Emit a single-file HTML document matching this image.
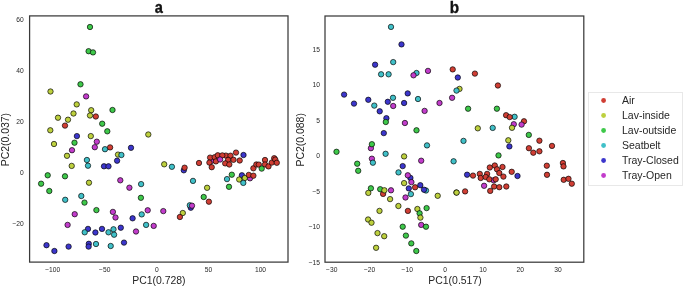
<!DOCTYPE html>
<html><head><meta charset="utf-8"><style>
html,body{margin:0;padding:0;background:#fff;}
body{width:684px;height:287px;overflow:hidden;position:relative;font-family:"Liberation Sans",sans-serif;}
svg{position:absolute;left:0;top:0;will-change:transform;}
</style></head><body>
<svg width="684" height="287" viewBox="0 0 684 287" font-family="Liberation Sans, sans-serif">
<g stroke="#000" stroke-opacity="0.75" stroke-width="0.9">
<circle cx="90" cy="27" r="2.7" fill="#3ec84a"/>
<circle cx="88.6" cy="51.2" r="2.7" fill="#3ec84a"/>
<circle cx="93" cy="52.4" r="2.7" fill="#3ec84a"/>
<circle cx="80.5" cy="84.3" r="2.7" fill="#3ec84a"/>
<circle cx="50.5" cy="91.5" r="2.7" fill="#bdd03e"/>
<circle cx="86.1" cy="96.4" r="2.7" fill="#c23ccb"/>
<circle cx="76.7" cy="104.4" r="2.7" fill="#bdd03e"/>
<circle cx="112.5" cy="110" r="2.7" fill="#3ec84a"/>
<circle cx="91.2" cy="110.2" r="2.7" fill="#bdd03e"/>
<circle cx="73.5" cy="113.5" r="2.7" fill="#bdd03e"/>
<circle cx="90" cy="115.5" r="2.7" fill="#bdd03e"/>
<circle cx="95.8" cy="116.5" r="2.7" fill="#d03e34"/>
<circle cx="58" cy="117.7" r="2.7" fill="#bdd03e"/>
<circle cx="68" cy="119.7" r="2.7" fill="#bdd03e"/>
<circle cx="102.2" cy="123.7" r="2.7" fill="#3ec84a"/>
<circle cx="65" cy="125.6" r="2.7" fill="#d03e34"/>
<circle cx="50.3" cy="130.3" r="2.7" fill="#bdd03e"/>
<circle cx="107.3" cy="131.3" r="2.7" fill="#3ec84a"/>
<circle cx="148.3" cy="134.5" r="2.7" fill="#bdd03e"/>
<circle cx="76.9" cy="136.1" r="2.7" fill="#3c36cc"/>
<circle cx="90.8" cy="136.1" r="2.7" fill="#bdd03e"/>
<circle cx="96.8" cy="141.7" r="2.7" fill="#c23ccb"/>
<circle cx="74.5" cy="142.7" r="2.7" fill="#3ec84a"/>
<circle cx="54" cy="144" r="2.7" fill="#bdd03e"/>
<circle cx="94.8" cy="147.2" r="2.7" fill="#c23ccb"/>
<circle cx="131" cy="147.8" r="2.7" fill="#3c36cc"/>
<circle cx="110.1" cy="147.4" r="2.7" fill="#d03e34"/>
<circle cx="105" cy="149.2" r="2.7" fill="#40c0c8"/>
<circle cx="72" cy="150.2" r="2.7" fill="#c23ccb"/>
<circle cx="118" cy="154.6" r="2.7" fill="#bdd03e"/>
<circle cx="121.4" cy="155" r="2.7" fill="#40c0c8"/>
<circle cx="67" cy="155.8" r="2.7" fill="#bdd03e"/>
<circle cx="86.9" cy="160" r="2.7" fill="#40c0c8"/>
<circle cx="117.1" cy="160.7" r="2.7" fill="#3c36cc"/>
<circle cx="71.7" cy="165.9" r="2.7" fill="#bdd03e"/>
<circle cx="88" cy="165.7" r="2.7" fill="#40c0c8"/>
<circle cx="104" cy="166.3" r="2.7" fill="#3c36cc"/>
<circle cx="108.5" cy="166.3" r="2.7" fill="#3c36cc"/>
<circle cx="164.2" cy="164.3" r="2.7" fill="#bdd03e"/>
<circle cx="47.7" cy="175.3" r="2.7" fill="#3ec84a"/>
<circle cx="65" cy="176.3" r="2.7" fill="#3ec84a"/>
<circle cx="120.3" cy="180.3" r="2.7" fill="#c23ccb"/>
<circle cx="41.1" cy="183.7" r="2.7" fill="#3ec84a"/>
<circle cx="89" cy="182.7" r="2.7" fill="#bdd03e"/>
<circle cx="141.1" cy="184.1" r="2.7" fill="#40c0c8"/>
<circle cx="129.4" cy="187.7" r="2.7" fill="#c23ccb"/>
<circle cx="49.3" cy="191" r="2.7" fill="#3ec84a"/>
<circle cx="81.3" cy="196" r="2.7" fill="#40c0c8"/>
<circle cx="140.9" cy="197.8" r="2.7" fill="#3ec84a"/>
<circle cx="65.2" cy="199.8" r="2.7" fill="#40c0c8"/>
<circle cx="84.5" cy="202.6" r="2.7" fill="#3ec84a"/>
<circle cx="96.4" cy="210.1" r="2.7" fill="#3ec84a"/>
<circle cx="112.9" cy="211.9" r="2.7" fill="#c23ccb"/>
<circle cx="147.7" cy="210.3" r="2.7" fill="#c23ccb"/>
<circle cx="163.3" cy="211.1" r="2.7" fill="#c23ccb"/>
<circle cx="74.7" cy="214.2" r="2.7" fill="#c23ccb"/>
<circle cx="115.5" cy="217.5" r="2.7" fill="#c23ccb"/>
<circle cx="141.7" cy="214.4" r="2.7" fill="#40c0c8"/>
<circle cx="132.6" cy="218.3" r="2.7" fill="#3c36cc"/>
<circle cx="67.6" cy="224.9" r="2.7" fill="#c23ccb"/>
<circle cx="146.1" cy="224.9" r="2.7" fill="#40c0c8"/>
<circle cx="153.7" cy="225.9" r="2.7" fill="#c23ccb"/>
<circle cx="88" cy="228.9" r="2.7" fill="#3c36cc"/>
<circle cx="102" cy="228.9" r="2.7" fill="#3c36cc"/>
<circle cx="120.8" cy="227.7" r="2.7" fill="#3c36cc"/>
<circle cx="113.5" cy="229.3" r="2.7" fill="#40c0c8"/>
<circle cx="84.7" cy="232.3" r="2.7" fill="#40c0c8"/>
<circle cx="95.4" cy="232.5" r="2.7" fill="#3c36cc"/>
<circle cx="108.5" cy="232.3" r="2.7" fill="#40c0c8"/>
<circle cx="114.1" cy="234.7" r="2.7" fill="#40c0c8"/>
<circle cx="136" cy="231.5" r="2.7" fill="#c23ccb"/>
<circle cx="46.5" cy="245.2" r="2.7" fill="#3c36cc"/>
<circle cx="54.4" cy="251" r="2.7" fill="#3c36cc"/>
<circle cx="68.6" cy="246.6" r="2.7" fill="#3c36cc"/>
<circle cx="88.8" cy="243.8" r="2.7" fill="#3c36cc"/>
<circle cx="88.6" cy="246.6" r="2.7" fill="#3c36cc"/>
<circle cx="96" cy="244" r="2.7" fill="#40c0c8"/>
<circle cx="110.7" cy="246" r="2.7" fill="#40c0c8"/>
<circle cx="124" cy="242.6" r="2.7" fill="#3c36cc"/>
<circle cx="171.9" cy="166.8" r="2.7" fill="#40c0c8"/>
<circle cx="183.8" cy="170.3" r="2.7" fill="#3c36cc"/>
<circle cx="184.6" cy="167.7" r="2.7" fill="#d03e34"/>
<circle cx="199" cy="163" r="2.7" fill="#d03e34"/>
<circle cx="193" cy="180.9" r="2.7" fill="#40c0c8"/>
<circle cx="250" cy="178.3" r="2.7" fill="#c23ccb"/>
<circle cx="231.8" cy="174.7" r="2.7" fill="#3ec84a"/>
<circle cx="227" cy="179.1" r="2.7" fill="#40c0c8"/>
<circle cx="229" cy="186.8" r="2.7" fill="#3ec84a"/>
<circle cx="241.9" cy="175.3" r="2.7" fill="#3c36cc"/>
<circle cx="239.2" cy="179.5" r="2.7" fill="#bdd03e"/>
<circle cx="244.8" cy="178" r="2.7" fill="#bdd03e"/>
<circle cx="243.3" cy="182.9" r="2.7" fill="#40c0c8"/>
<circle cx="248.8" cy="174.9" r="2.7" fill="#d03e34"/>
<circle cx="253.4" cy="175.7" r="2.7" fill="#d03e34"/>
<circle cx="207.1" cy="187.8" r="2.7" fill="#bdd03e"/>
<circle cx="203.7" cy="197" r="2.7" fill="#3ec84a"/>
<circle cx="208.9" cy="201.7" r="2.7" fill="#d03e34"/>
<circle cx="190.8" cy="207.7" r="2.7" fill="#3c36cc"/>
<circle cx="189.8" cy="205.3" r="2.7" fill="#40c0c8"/>
<circle cx="192" cy="205.7" r="2.7" fill="#c23ccb"/>
<circle cx="182.8" cy="213" r="2.7" fill="#bdd03e"/>
<circle cx="179.9" cy="217" r="2.7" fill="#d03e34"/>
<circle cx="236" cy="152.6" r="2.7" fill="#d03e34"/>
<circle cx="243.5" cy="155" r="2.7" fill="#3c36cc"/>
<circle cx="211.3" cy="161" r="2.7" fill="#c23ccb"/>
<circle cx="210.1" cy="157.6" r="2.7" fill="#d03e34"/>
<circle cx="214.7" cy="157.2" r="2.7" fill="#d03e34"/>
<circle cx="217.8" cy="155.3" r="2.7" fill="#d03e34"/>
<circle cx="225.9" cy="155.6" r="2.7" fill="#d03e34"/>
<circle cx="230.5" cy="155.7" r="2.7" fill="#d03e34"/>
<circle cx="209.4" cy="162.6" r="2.7" fill="#d03e34"/>
<circle cx="215.9" cy="161.4" r="2.7" fill="#d03e34"/>
<circle cx="222.3" cy="155.4" r="2.7" fill="#d03e34"/>
<circle cx="220.1" cy="159.5" r="2.7" fill="#c23ccb"/>
<circle cx="228.1" cy="159.9" r="2.7" fill="#d03e34"/>
<circle cx="233.5" cy="159.8" r="2.7" fill="#d03e34"/>
<circle cx="239.7" cy="160.5" r="2.7" fill="#d03e34"/>
<circle cx="225.2" cy="163.4" r="2.7" fill="#d03e34"/>
<circle cx="229.3" cy="164.5" r="2.7" fill="#d03e34"/>
<circle cx="211.7" cy="167.2" r="2.7" fill="#d03e34"/>
<circle cx="253.4" cy="168.3" r="2.7" fill="#d03e34"/>
<circle cx="256.3" cy="164.5" r="2.7" fill="#d03e34"/>
<circle cx="258.8" cy="164.6" r="2.7" fill="#d03e34"/>
<circle cx="265" cy="160" r="2.7" fill="#d03e34"/>
<circle cx="265" cy="164.5" r="2.7" fill="#d03e34"/>
<circle cx="268.5" cy="166.4" r="2.7" fill="#d03e34"/>
<circle cx="271.8" cy="162.6" r="2.7" fill="#d03e34"/>
<circle cx="274.2" cy="158.2" r="2.7" fill="#d03e34"/>
<circle cx="275.3" cy="159.6" r="2.7" fill="#d03e34"/>
<circle cx="276.8" cy="162.8" r="2.7" fill="#d03e34"/>
<circle cx="261.7" cy="168.6" r="2.7" fill="#3ec84a"/>
<circle cx="391" cy="26.9" r="2.7" fill="#40c0c8"/>
<circle cx="401.5" cy="44.4" r="2.7" fill="#3c36cc"/>
<circle cx="393.2" cy="62.1" r="2.7" fill="#40c0c8"/>
<circle cx="375.1" cy="64.7" r="2.7" fill="#3c36cc"/>
<circle cx="428" cy="70.9" r="2.7" fill="#c23ccb"/>
<circle cx="452.7" cy="69.4" r="2.7" fill="#d03e34"/>
<circle cx="381.1" cy="74.3" r="2.7" fill="#40c0c8"/>
<circle cx="388.6" cy="74.3" r="2.7" fill="#40c0c8"/>
<circle cx="416.5" cy="73" r="2.7" fill="#40c0c8"/>
<circle cx="413.5" cy="75.3" r="2.7" fill="#c23ccb"/>
<circle cx="457.8" cy="77.5" r="2.7" fill="#3c36cc"/>
<circle cx="344.1" cy="94.6" r="2.7" fill="#3c36cc"/>
<circle cx="407.7" cy="93.4" r="2.7" fill="#3c36cc"/>
<circle cx="393" cy="97.8" r="2.7" fill="#40c0c8"/>
<circle cx="418" cy="99" r="2.7" fill="#40c0c8"/>
<circle cx="354" cy="103.6" r="2.7" fill="#3c36cc"/>
<circle cx="368.3" cy="99.8" r="2.7" fill="#3c36cc"/>
<circle cx="387.8" cy="101.8" r="2.7" fill="#3c36cc"/>
<circle cx="393.2" cy="106" r="2.7" fill="#c23ccb"/>
<circle cx="404.1" cy="103" r="2.7" fill="#3c36cc"/>
<circle cx="374.3" cy="105.6" r="2.7" fill="#40c0c8"/>
<circle cx="379.7" cy="111.3" r="2.7" fill="#3c36cc"/>
<circle cx="424.6" cy="110.9" r="2.7" fill="#c23ccb"/>
<circle cx="439.5" cy="103" r="2.7" fill="#c23ccb"/>
<circle cx="452.1" cy="97.8" r="2.7" fill="#c23ccb"/>
<circle cx="459.5" cy="88.9" r="2.7" fill="#bdd03e"/>
<circle cx="456.5" cy="90.6" r="2.7" fill="#40c0c8"/>
<circle cx="386.4" cy="118.2" r="2.7" fill="#3c36cc"/>
<circle cx="385.8" cy="122" r="2.7" fill="#3ec84a"/>
<circle cx="404.9" cy="123" r="2.7" fill="#c23ccb"/>
<circle cx="416.5" cy="130.3" r="2.7" fill="#3ec84a"/>
<circle cx="383.8" cy="133.1" r="2.7" fill="#3c36cc"/>
<circle cx="370.9" cy="148.2" r="2.7" fill="#c23ccb"/>
<circle cx="371.9" cy="144.2" r="2.7" fill="#3ec84a"/>
<circle cx="427" cy="145.4" r="2.7" fill="#40c0c8"/>
<circle cx="336.5" cy="151.8" r="2.7" fill="#3ec84a"/>
<circle cx="385.6" cy="153.8" r="2.7" fill="#40c0c8"/>
<circle cx="404.1" cy="156.4" r="2.7" fill="#bdd03e"/>
<circle cx="371.9" cy="158.7" r="2.7" fill="#c23ccb"/>
<circle cx="372.9" cy="162.7" r="2.7" fill="#40c0c8"/>
<circle cx="421.2" cy="160.7" r="2.7" fill="#c23ccb"/>
<circle cx="453.6" cy="161.3" r="2.7" fill="#40c0c8"/>
<circle cx="357.2" cy="163.7" r="2.7" fill="#3ec84a"/>
<circle cx="402.7" cy="166.1" r="2.7" fill="#3c36cc"/>
<circle cx="358.2" cy="170.8" r="2.7" fill="#3ec84a"/>
<circle cx="398.5" cy="172.4" r="2.7" fill="#40c0c8"/>
<circle cx="410.4" cy="177.9" r="2.7" fill="#3c36cc"/>
<circle cx="407.8" cy="175.3" r="2.7" fill="#c23ccb"/>
<circle cx="404.1" cy="183.1" r="2.7" fill="#bdd03e"/>
<circle cx="411.4" cy="182.1" r="2.7" fill="#c23ccb"/>
<circle cx="408.8" cy="188.4" r="2.7" fill="#3c36cc"/>
<circle cx="415.1" cy="187.3" r="2.7" fill="#d03e34"/>
<circle cx="420.3" cy="185.2" r="2.7" fill="#3c36cc"/>
<circle cx="426" cy="190.5" r="2.7" fill="#40c0c8"/>
<circle cx="424" cy="189.7" r="2.7" fill="#3c36cc"/>
<circle cx="410.9" cy="194.1" r="2.7" fill="#40c0c8"/>
<circle cx="391" cy="190.3" r="2.7" fill="#c23ccb"/>
<circle cx="405.5" cy="197.5" r="2.7" fill="#c23ccb"/>
<circle cx="370.9" cy="188.3" r="2.7" fill="#3ec84a"/>
<circle cx="368.3" cy="192.9" r="2.7" fill="#bdd03e"/>
<circle cx="383.1" cy="193.9" r="2.7" fill="#d03e34"/>
<circle cx="380.2" cy="189.2" r="2.7" fill="#3ec84a"/>
<circle cx="384.4" cy="190.3" r="2.7" fill="#bdd03e"/>
<circle cx="390.1" cy="199.1" r="2.7" fill="#bdd03e"/>
<circle cx="437.7" cy="195.8" r="2.7" fill="#bdd03e"/>
<circle cx="456.4" cy="192.5" r="2.7" fill="#bdd03e"/>
<circle cx="398.4" cy="206" r="2.7" fill="#bdd03e"/>
<circle cx="379.5" cy="210.9" r="2.7" fill="#bdd03e"/>
<circle cx="407.9" cy="210.9" r="2.7" fill="#d03e34"/>
<circle cx="417.4" cy="209" r="2.7" fill="#bdd03e"/>
<circle cx="426.6" cy="208.1" r="2.7" fill="#3ec84a"/>
<circle cx="419.6" cy="213.3" r="2.7" fill="#3ec84a"/>
<circle cx="420.4" cy="217.6" r="2.7" fill="#bdd03e"/>
<circle cx="368.1" cy="219.5" r="2.7" fill="#bdd03e"/>
<circle cx="371.5" cy="222.7" r="2.7" fill="#bdd03e"/>
<circle cx="402.7" cy="226.7" r="2.7" fill="#3ec84a"/>
<circle cx="421.2" cy="224.9" r="2.7" fill="#c23ccb"/>
<circle cx="426" cy="226.7" r="2.7" fill="#3ec84a"/>
<circle cx="377.5" cy="233.1" r="2.7" fill="#bdd03e"/>
<circle cx="384.2" cy="236.2" r="2.7" fill="#bdd03e"/>
<circle cx="405.9" cy="235.6" r="2.7" fill="#3ec84a"/>
<circle cx="411.3" cy="243.4" r="2.7" fill="#3ec84a"/>
<circle cx="376.1" cy="247.8" r="2.7" fill="#bdd03e"/>
<circle cx="416.3" cy="251" r="2.7" fill="#3ec84a"/>
<circle cx="474.9" cy="73.6" r="2.7" fill="#d03e34"/>
<circle cx="497.9" cy="85.5" r="2.7" fill="#d03e34"/>
<circle cx="468.1" cy="108.7" r="2.7" fill="#3ec84a"/>
<circle cx="496.9" cy="108.7" r="2.7" fill="#3ec84a"/>
<circle cx="514.6" cy="116.8" r="2.7" fill="#40c0c8"/>
<circle cx="506.1" cy="115.2" r="2.7" fill="#d03e34"/>
<circle cx="509.7" cy="117.1" r="2.7" fill="#d03e34"/>
<circle cx="513.8" cy="124.2" r="2.7" fill="#c23ccb"/>
<circle cx="512" cy="127.8" r="2.7" fill="#bdd03e"/>
<circle cx="524" cy="121.3" r="2.7" fill="#d03e34"/>
<circle cx="521.6" cy="124.6" r="2.7" fill="#c23ccb"/>
<circle cx="528.8" cy="134.9" r="2.7" fill="#3ec84a"/>
<circle cx="477.8" cy="128.3" r="2.7" fill="#bdd03e"/>
<circle cx="492.7" cy="127.9" r="2.7" fill="#40c0c8"/>
<circle cx="463.5" cy="140.9" r="2.7" fill="#40c0c8"/>
<circle cx="508.3" cy="140.3" r="2.7" fill="#bdd03e"/>
<circle cx="509.4" cy="146.4" r="2.7" fill="#3c36cc"/>
<circle cx="539.4" cy="140.7" r="2.7" fill="#d03e34"/>
<circle cx="552" cy="145.9" r="2.7" fill="#d03e34"/>
<circle cx="528.9" cy="148.2" r="2.7" fill="#d03e34"/>
<circle cx="533.3" cy="152.7" r="2.7" fill="#d03e34"/>
<circle cx="539.4" cy="151.3" r="2.7" fill="#d03e34"/>
<circle cx="498.5" cy="155.4" r="2.7" fill="#3ec84a"/>
<circle cx="546.8" cy="165.7" r="2.7" fill="#d03e34"/>
<circle cx="562.9" cy="163" r="2.7" fill="#d03e34"/>
<circle cx="563.5" cy="166.4" r="2.7" fill="#d03e34"/>
<circle cx="547" cy="174.8" r="2.7" fill="#d03e34"/>
<circle cx="563.7" cy="179.8" r="2.7" fill="#d03e34"/>
<circle cx="568.5" cy="178.8" r="2.7" fill="#d03e34"/>
<circle cx="571.8" cy="183.7" r="2.7" fill="#d03e34"/>
<circle cx="493.6" cy="180.3" r="2.7" fill="#c23ccb"/>
<circle cx="489.8" cy="167.5" r="2.7" fill="#d03e34"/>
<circle cx="494.8" cy="165.5" r="2.7" fill="#d03e34"/>
<circle cx="502.5" cy="167" r="2.7" fill="#d03e34"/>
<circle cx="497" cy="169.3" r="2.7" fill="#d03e34"/>
<circle cx="499.3" cy="173" r="2.7" fill="#d03e34"/>
<circle cx="503.4" cy="176.6" r="2.7" fill="#d03e34"/>
<circle cx="473" cy="175.6" r="2.7" fill="#d03e34"/>
<circle cx="479.8" cy="173.9" r="2.7" fill="#d03e34"/>
<circle cx="480.7" cy="178" r="2.7" fill="#d03e34"/>
<circle cx="487.1" cy="173.9" r="2.7" fill="#d03e34"/>
<circle cx="485.7" cy="177" r="2.7" fill="#d03e34"/>
<circle cx="489.3" cy="179.3" r="2.7" fill="#d03e34"/>
<circle cx="495.7" cy="179.3" r="2.7" fill="#d03e34"/>
<circle cx="511.7" cy="171.8" r="2.7" fill="#d03e34"/>
<circle cx="517.5" cy="176" r="2.7" fill="#3c36cc"/>
<circle cx="467.1" cy="174.7" r="2.7" fill="#3c36cc"/>
<circle cx="484.1" cy="185.8" r="2.7" fill="#c23ccb"/>
<circle cx="494.1" cy="186.5" r="2.7" fill="#d03e34"/>
<circle cx="499.3" cy="187.2" r="2.7" fill="#d03e34"/>
<circle cx="506.3" cy="186.5" r="2.7" fill="#d03e34"/>
<circle cx="490.2" cy="190.9" r="2.7" fill="#d03e34"/>
<circle cx="465.1" cy="191.4" r="2.7" fill="#d03e34"/>
<circle cx="456.6" cy="192.6" r="2.7" fill="#bdd03e"/>
</g>
<g fill="none" stroke="#3a3a3a" stroke-width="1.25">
<rect x="29.6" y="15.9" width="258.4" height="246.2"/>
<rect x="325" y="16" width="258.8" height="246.2"/>
</g>
<g font-size="17" font-weight="bold" fill="#111" stroke="#111" stroke-width="0.35" text-anchor="middle">
<text transform="translate(158.9,12.8) scale(0.86,1)">a</text>
<text transform="translate(454.5,12.8) scale(0.9,1)">b</text>
</g>
<g font-size="10.45" fill="#262626" text-anchor="middle">
<text x="158.9" y="284.3">PC1(0.728)</text>
<text x="455" y="284.3">PC1(0.517)</text>
<text transform="translate(8.5,139.6) rotate(-90)">PC2(0.037)</text>
<text transform="translate(303.8,139.8) rotate(-90)">PC2(0.088)</text>
</g>
<g font-size="6.7" fill="#262626" text-anchor="middle">
<text x="52.7" y="271.7">−100</text>
<text x="104.8" y="271.7">−50</text>
<text x="156.9" y="271.7">0</text>
<text x="208.6" y="271.7">50</text>
<text x="260.5" y="271.7">100</text>
<text x="331.8" y="271.7">−30</text>
<text x="369.6" y="271.7">−20</text>
<text x="407.2" y="271.7">−10</text>
<text x="445.1" y="271.7">0</text>
<text x="483" y="271.7">10</text>
<text x="520.3" y="271.7">20</text>
<text x="557.9" y="271.7">30</text>
</g>
<g font-size="6.7" fill="#262626" text-anchor="end">
<text x="23.8" y="21.7">60</text>
<text x="23.8" y="72.8">40</text>
<text x="23.8" y="123.9">20</text>
<text x="23.8" y="175">0</text>
<text x="23.8" y="226.1">−20</text>
<text x="320" y="51.8">15</text>
<text x="320" y="87.3">10</text>
<text x="320" y="122.8">5</text>
<text x="320" y="158.3">0</text>
<text x="320" y="193.8">−5</text>
<text x="320" y="229.3">−10</text>
<text x="320" y="264.8">−15</text>
</g>
<rect x="588.5" y="92.5" width="94" height="93" fill="#fff" stroke="#e8e8e8" stroke-width="1"/>
<g stroke="none">
<circle cx="603.6" cy="100.5" r="2.4" fill="#d03e34"/>
<circle cx="603.6" cy="115.5" r="2.4" fill="#bdd03e"/>
<circle cx="603.6" cy="130.5" r="2.4" fill="#3ec84a"/>
<circle cx="603.6" cy="145.5" r="2.4" fill="#40c0c8"/>
<circle cx="603.6" cy="160.5" r="2.4" fill="#3c36cc"/>
<circle cx="603.6" cy="175.5" r="2.4" fill="#c23ccb"/>
</g>
<g font-size="10.5" fill="#262626">
<text x="622" y="104">Air</text>
<text x="622" y="119">Lav-inside</text>
<text x="622" y="134">Lav-outside</text>
<text x="622" y="149">Seatbelt</text>
<text x="622" y="164">Tray-Closed</text>
<text x="622" y="179">Tray-Open</text>
</g>
</svg>
</body></html>
